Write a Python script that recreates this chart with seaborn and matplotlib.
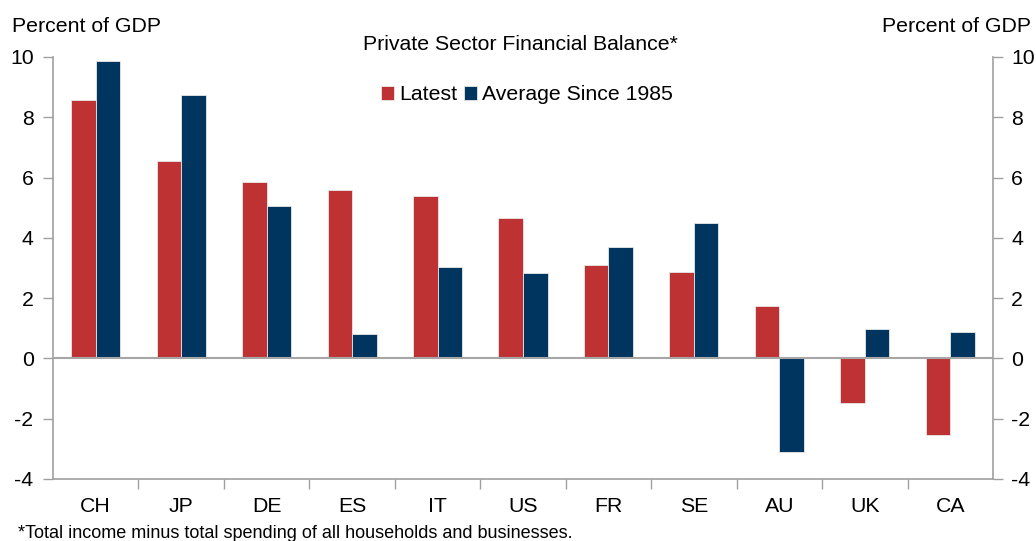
import pandas as pd
import numpy as np
import matplotlib
matplotlib.use("Agg")
import matplotlib.pyplot as plt
import seaborn as sns
from matplotlib.ticker import FixedLocator

countries = ["CH", "JP", "DE", "ES", "IT", "US", "FR", "SE", "AU", "UK", "CA"]
latest = [8.58, 6.55, 5.85, 5.6, 5.4, 4.66, 3.1, 2.86, 1.75, -1.49, -2.55]
average = [9.86, 8.74, 5.05, 0.82, 3.04, 2.83, 3.7, 4.5, -3.12, 0.97, 0.87]
series = ["Latest", "Average Since 1985"]
yticks = [-4, -2, 0, 2, 4, 6, 8, 10]

df = pd.DataFrame({
    "country": countries * 2,
    "value": latest + average,
    "series": [series[0]] * len(countries) + [series[1]] * len(countries),
})

sns.set_style("white")
plt.rcParams["font.family"] = ["Liberation Sans", "DejaVu Sans"]
plt.rcParams["axes.unicode_minus"] = False
plt.rcParams["text.color"] = "black"

fig = plt.figure(figsize=(10.36, 5.41), dpi=100)
ax = fig.add_axes([53 / 1036, 1 - 479 / 541, (993 - 53) / 1036, (479 - 57) / 541])

palette = {"Latest": "#BE3234", "Average Since 1985": "#00355F"}
sns.barplot(data=df, x="country", y="value", hue="series", palette=palette,
            width=0.574, edgecolor="#E8E8E8", linewidth=0.6, saturation=1,
            ax=ax)

ax.set_xlim(-0.5, len(countries) - 0.5)
ax.set_ylim(-4, 10)
ax.set_yticks(yticks)
ax.set_xlabel("")
ax.set_ylabel("")
ax.axhline(0, color="#A6A6A6", lw=1.5, zorder=3)

grey = "#A0A0A0"
fs = 15.3
for s in ["top", "right"]:
    ax.spines[s].set_visible(False)
for s in ["left", "bottom"]:
    ax.spines[s].set_color(grey)
    ax.spines[s].set_linewidth(1.2)

ax.tick_params(axis="y", which="major", length=7, width=1, color=grey,
               direction="out", labelsize=fs, pad=7, left=True,
               labelcolor="black")
ax.tick_params(axis="x", which="major", length=0, labelsize=fs, pad=13,
               labelcolor="black")
ax.xaxis.set_minor_locator(FixedLocator(np.arange(0.5, len(countries) - 0.5, 1)))
ax.tick_params(axis="x", which="minor", length=7, width=1, color=grey,
               direction="out", bottom=True)

ax2 = ax.twinx()
ax2.set_ylim(-4, 10)
ax2.set_yticks(yticks)
for s in ["top", "left", "bottom"]:
    ax2.spines[s].set_visible(False)
ax2.spines["right"].set_color(grey)
ax2.spines["right"].set_linewidth(1.2)
ax2.tick_params(axis="y", length=7, width=1, color=grey, direction="out",
                labelsize=fs, pad=6, labelcolor="black")

handles, labels = ax.get_legend_handles_labels()
ax.legend(handles, labels, loc="center", bbox_to_anchor=(527 / 1036, 1 - 95 / 541),
          bbox_transform=fig.transFigure, ncol=2, frameon=False, fontsize=fs,
          handlelength=0.6, handleheight=0.6, handletextpad=0.25,
          columnspacing=0.3)

fig.text(520 / 1036, 1 - 44 / 541, "Private Sector Financial Balance*",
         ha="center", va="center", fontsize=fs)
fig.text(12 / 1036, 1 - 27 / 541, "Percent of GDP", ha="left", va="center",
         fontsize=15.3)
fig.text(1031 / 1036, 1 - 27 / 541, "Percent of GDP", ha="right", va="center",
         fontsize=15.3)
fig.text(18 / 1036, 1 - 533 / 541,
         "*Total income minus total spending of all households and businesses.",
         ha="left", va="center", fontsize=13)

fig.savefig("out.png", dpi=100)
